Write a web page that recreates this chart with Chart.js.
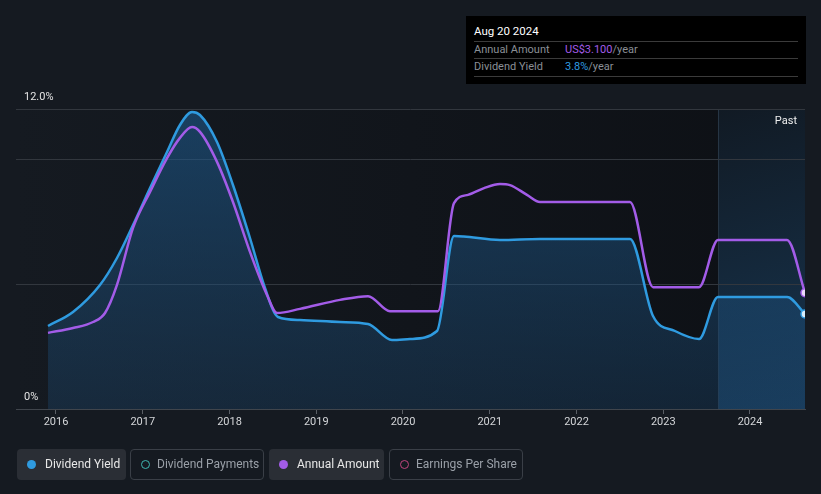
<!DOCTYPE html>
<html>
<head>
<meta charset="utf-8">
<script src="https://cdn.jsdelivr.net/npm/chart.js@4.4.1/dist/chart.umd.min.js"></script>
<style>
  html, body { margin:0; padding:0; background:#151a21; width:821px; height:494px; overflow:hidden; font-family: Roboto, "Noto Sans", sans-serif; }
  #wrap { position:relative; width:821px; height:494px; }
  canvas { position:absolute; left:0; top:0; }
  #tip { position:absolute; left:466px; top:16px; width:340px; height:68px; background:#000; font-size:11px; }
  #tip .title { position:absolute; left:8px; top:8px; color:#fff; font-size:11.5px; }
  #tip .sep { position:absolute; left:8px; width:324px; height:1px; background:#3b3b3b; }
  #tip .lab { position:absolute; left:8px; color:#8a8f96; }
  #tip .val { position:absolute; left:99px; color:#8a8f96; }
  #past { position:absolute; right:24px; top:114px; color:#eee; font-size:11px; }
  .leg { position:absolute; top:449px; height:31px; box-sizing:border-box; border-radius:4px; font-size:12px; line-height:31px; }
  .leg.on { background:#2a2e35; color:#e8e8e8; }
  .leg.off { border:1px solid #3a3f47; color:#9aa0a8; line-height:29px; }
  .leg .dot { position:absolute; top:11px; width:9px; height:9px; border-radius:50%; box-sizing:border-box; }
  .leg.off .dot { top:10px; }
  .leg .txt { position:absolute; }
</style>
</head>
<body>
<div id="wrap">
<canvas id="c" width="821" height="494"></canvas>
<div id="tip">
  <div class="title">Aug 20 2024</div>
  <div class="sep" style="top:25px"></div>
  <div class="lab" style="top:27px">Annual Amount</div>
  <div class="val" style="top:27px"><span style="color:#a35ce8">US$3.100</span>/year</div>
  <div class="sep" style="top:42px"></div>
  <div class="lab" style="top:44px">Dividend Yield</div>
  <div class="val" style="top:44px"><span style="color:#2f9be0">3.8%</span>/year</div>
  <div class="sep" style="top:60px"></div>
</div>
<div id="past">Past</div>
<div class="leg on" style="left:17px;width:109px"><span class="dot" style="left:10px;background:#2f9be0"></span><span class="txt" style="left:28px">Dividend Yield</span></div>
<div class="leg off" style="left:130px;width:134px"><span class="dot" style="left:10px;border:1.5px solid #3fb8b0"></span><span class="txt" style="left:26px">Dividend Payments</span></div>
<div class="leg on" style="left:269px;width:115px"><span class="dot" style="left:10px;background:#a35ce8"></span><span class="txt" style="left:28px">Annual Amount</span></div>
<div class="leg off" style="left:389px;width:134px"><span class="dot" style="left:10px;border:1.5px solid #c0457e"></span><span class="txt" style="left:26px">Earnings Per Share</span></div>
</div>
<script>
// Dividend Yield (%)
const yieldX = [2015.908, 2016.196, 2016.507, 2016.703, 2016.888, 2017.084, 2017.280, 2017.429, 2017.568, 2017.660, 2017.856, 2018.040, 2018.236, 2018.409, 2018.559, 2018.813, 2019.274, 2019.597, 2019.873, 2020.081, 2020.392, 2020.588, 2020.700, 2021.118, 2021.579, 2022.617, 2022.882, 2023.135, 2023.412, 2023.631, 2024.427, 2024.634];
const yieldY = [3.32, 3.88, 4.96, 6.04, 7.36, 8.84, 10.28, 11.36, 11.88, 11.76, 10.68, 8.96, 6.84, 4.84, 3.68, 3.56, 3.48, 3.40, 2.76, 2.80, 3.12, 6.92, 6.90, 6.76, 6.80, 6.80, 3.72, 3.12, 2.80, 4.48, 4.48, 3.80];
// Annual Amount (US$)
const amountX = [2015.908, 2016.196, 2016.427, 2016.565, 2016.703, 2016.888, 2017.084, 2017.280, 2017.429, 2017.568, 2017.660, 2017.856, 2018.040, 2018.236, 2018.432, 2018.548, 2018.813, 2019.274, 2019.597, 2019.850, 2020.403, 2020.588, 2020.749, 2020.934, 2021.118, 2021.233, 2021.429, 2021.579, 2022.617, 2022.882, 2023.412, 2023.631, 2024.427, 2024.634];
const amountY = [2.03, 2.16, 2.32, 2.56, 3.31, 4.83, 5.79, 6.69, 7.23, 7.52, 7.39, 6.59, 5.52, 4.19, 3.04, 2.56, 2.67, 2.91, 3.01, 2.61, 2.61, 5.49, 5.71, 5.89, 6.00, 5.97, 5.71, 5.52, 5.52, 3.25, 3.25, 4.51, 4.51, 3.10];
const yearTicks = [2016, 2017, 2018, 2019, 2020, 2021, 2022, 2023, 2024];
const yTicks = [0, 5, 10, 12];
const xMin = 2015.539, xMax = 2024.634, pastStart = 2023.634;

const BLUE = '#2f9be0', PURPLE = '#a35ce8';
const toPts = (xs, ys) => xs.map((x, i) => ({ x, y: ys[i] }));

const bgPlugin = {
  id: 'bg',
  beforeDraw(chart) {
    const { ctx, chartArea: a, scales } = chart;
    ctx.save();
    let g = ctx.createLinearGradient(a.left, 0, a.right, 0);
    g.addColorStop(0, '#151a21');
    g.addColorStop(1, '#0d1015');
    ctx.fillStyle = g;
    ctx.fillRect(a.left, a.top, a.right - a.left, a.bottom - a.top);
    const px = scales.x.getPixelForValue(pastStart);
    g = ctx.createLinearGradient(px, a.top, a.right, a.bottom);
    g.addColorStop(0, '#111a24');
    g.addColorStop(1, '#173550');
    ctx.fillStyle = g;
    ctx.fillRect(px, a.top, a.right - px, a.bottom - a.top);
    ctx.strokeStyle = '#263544';
    ctx.lineWidth = 1;
    ctx.beginPath();
    ctx.moveTo(Math.round(px) + 0.5, a.top);
    ctx.lineTo(Math.round(px) + 0.5, a.bottom);
    ctx.stroke();
    ctx.restore();
  }
};

const ctx = document.getElementById('c').getContext('2d');
const lastIdx = (arr) => arr.length - 1;

new Chart(ctx, {
  type: 'line',
  data: {
    datasets: [
      {
        label: 'Annual Amount',
        data: toPts(amountX, amountY),
        yAxisID: 'y2',
        borderColor: PURPLE,
        borderWidth: 2.5,
        fill: false,
        cubicInterpolationMode: 'monotone',
        pointRadius: c => c.dataIndex === lastIdx(amountX) ? 4 : 0,
        pointBackgroundColor: '#ead9fb',
        pointBorderColor: PURPLE,
        pointBorderWidth: 1.5
      },
      {
        label: 'Dividend Yield',
        data: toPts(yieldX, yieldY),
        yAxisID: 'y',
        borderColor: BLUE,
        borderWidth: 2.5,
        cubicInterpolationMode: 'monotone',
        fill: 'origin',
        backgroundColor: (c) => {
          const a = c.chart.chartArea;
          if (!a) return 'rgba(30,90,140,0.4)';
          const g = c.chart.ctx.createLinearGradient(0, a.top, 0, a.bottom);
          g.addColorStop(0, 'rgba(30,95,150,0.55)');
          g.addColorStop(1, 'rgba(30,80,125,0.3)');
          return g;
        },
        pointRadius: c => c.dataIndex === lastIdx(yieldX) ? 4 : 0,
        pointBackgroundColor: '#d8ecfa',
        pointBorderColor: BLUE,
        pointBorderWidth: 1.5
      }
    ]
  },
  options: {
    responsive: false,
    animation: false,
    layout: { padding: { left: 16, right: 16, top: 109, bottom: 55 } },
    plugins: { legend: { display: false }, tooltip: { enabled: false } },
    scales: {
      x: {
        type: 'linear',
        min: xMin,
        max: xMax,
        afterBuildTicks: s => { s.ticks = yearTicks.map(v => ({ value: v })); },
        afterFit: s => { s.height = 30; },
        ticks: { color: '#d4d6d9', font: { family: 'Roboto', size: 11 }, padding: 2, maxRotation: 0, callback: v => String(v) },
        grid: { drawOnChartArea: false, drawTicks: true, tickLength: 5, color: '#5a5f66' },
        border: { display: true, color: '#40454c' }
      },
      y: {
        min: 0,
        max: 12,
        afterBuildTicks: s => { s.ticks = yTicks.map(v => ({ value: v })); },
        afterFit: s => { s.width = 0; },
        ticks: {
          mirror: true, padding: 8, labelOffset: -12,
          color: '#e4e4e4', font: { family: 'Roboto', size: 11 },
          callback: v => v === 12 ? '12.0%' : (v === 0 ? '0%' : '')
        },
        grid: { color: '#32373e', drawTicks: false },
        border: { display: false }
      },
      y2: {
        display: false,
        min: 0,
        max: 8
      }
    }
  },
  plugins: [bgPlugin]
});
</script>
</body>
</html>
